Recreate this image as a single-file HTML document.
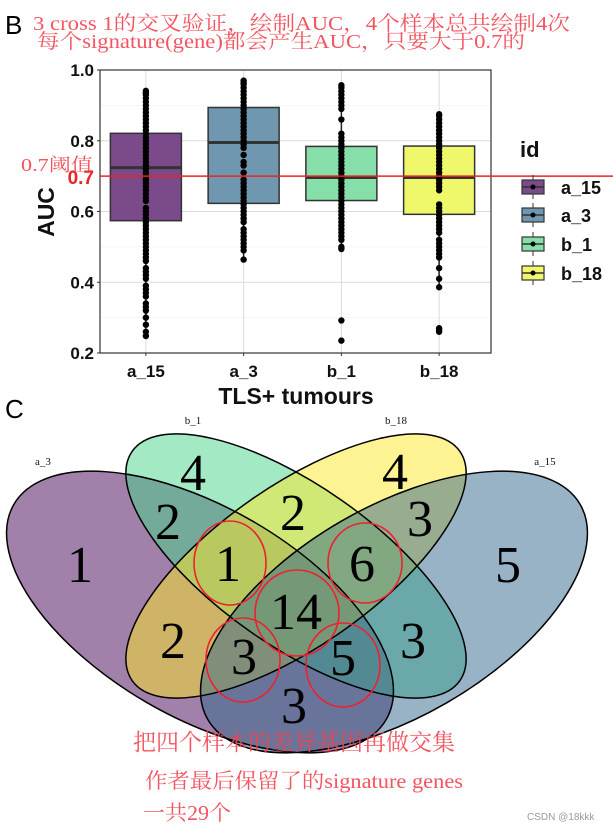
<!DOCTYPE html>
<html><head><meta charset="utf-8"><style>
html,body{margin:0;padding:0;background:#fff;}
svg{display:block;}
.sans{font-family:"Liberation Sans",sans-serif;}
.serif{font-family:"Liberation Serif","Noto Serif CJK SC",serif;}
.red{fill:#f2424f;fill-opacity:0.9;}
</style></head><body>
<svg id="chart" width="613" height="826" viewBox="0 0 613 826" xmlns="http://www.w3.org/2000/svg">
<rect width="613" height="826" fill="#fff"/>
<text x="5" y="34" class="sans" font-size="26">B</text>
<g id="plot"></g>
<g id="venn"></g>
<text x="5" y="418" class="sans" font-size="26">C</text>
<g>
<text x="33" y="30" class="serif red" font-size="20" textLength="537" lengthAdjust="spacingAndGlyphs">3 cross 1的交叉验证，绘制AUC，4个样本总共绘制4次</text>
<text x="37" y="48" class="serif red" font-size="20" textLength="488" lengthAdjust="spacingAndGlyphs">每个signature(gene)都会产生AUC，只要大于0.7的</text>
<text x="21" y="171" class="serif red" font-size="18" textLength="72" lengthAdjust="spacingAndGlyphs">0.7阈值</text>
<text x="133" y="750" class="serif red" font-size="23" textLength="322" lengthAdjust="spacingAndGlyphs">把四个样本的差异基因再做交集</text>
<text x="145" y="788" class="serif red" font-size="21" textLength="318" lengthAdjust="spacingAndGlyphs">作者最后保留了的signature genes</text>
<text x="143" y="820" class="serif red" font-size="21" textLength="88" lengthAdjust="spacingAndGlyphs">一共29个</text>
</g>
<text x="527" y="820" class="sans" font-size="10" fill="#999">CSDN @18kkk</text>
</svg>
<script>
const categories = ["a_15","a_3","b_1","b_18"];
const q1 = [0.574,0.623,0.631,0.592];
const medians = [0.724,0.795,0.696,0.696];
const q3 = [0.821,0.894,0.784,0.785];
const whiskerLow = [0.248,0.464,0.494,0.386];
const whiskerHigh = [0.941,0.970,0.957,0.875];
const yTicks = [0.2,0.4,0.6,0.8,1.0];
const yTickLabels = ["0.2","0.4","0.6","0.8","1.0"];
const yMinor = [0.3,0.5,0.7,0.9];
const threshold = 0.7;
const pointsA15 = [0.941,0.935,0.93,0.92,0.91,0.90,0.89,0.88,0.87,0.86,0.85,0.84,0.83,0.82,0.81,0.80,0.79,0.78,0.77,0.76,0.75,0.74,0.73,0.72,0.71,0.70,0.69,0.68,0.67,0.66,0.65,0.64,0.63,0.61,0.60,0.59,0.58,0.57,0.56,0.55,0.54,0.53,0.52,0.51,0.50,0.49,0.48,0.47,0.46,0.44,0.43,0.42,0.41,0.39,0.38,0.37,0.36,0.34,0.33,0.32,0.30,0.28,0.26,0.248];
const pointsA3 = [0.970,0.965,0.96,0.95,0.94,0.93,0.92,0.91,0.90,0.89,0.88,0.87,0.86,0.85,0.84,0.83,0.82,0.81,0.80,0.79,0.78,0.76,0.74,0.73,0.71,0.69,0.68,0.67,0.66,0.65,0.64,0.63,0.62,0.61,0.60,0.59,0.58,0.57,0.55,0.54,0.53,0.52,0.51,0.50,0.49,0.464];
const pointsB1 = [0.957,0.95,0.94,0.93,0.92,0.91,0.90,0.89,0.86,0.82,0.81,0.80,0.79,0.78,0.77,0.76,0.75,0.74,0.73,0.72,0.71,0.70,0.69,0.68,0.67,0.66,0.65,0.64,0.63,0.62,0.61,0.60,0.59,0.58,0.57,0.56,0.55,0.54,0.53,0.52,0.50,0.494,0.292,0.235];
const pointsB18 = [0.875,0.87,0.86,0.85,0.84,0.83,0.82,0.81,0.80,0.79,0.78,0.77,0.76,0.75,0.74,0.73,0.72,0.71,0.70,0.69,0.68,0.67,0.66,0.62,0.61,0.60,0.59,0.58,0.57,0.56,0.55,0.54,0.52,0.51,0.50,0.49,0.48,0.47,0.44,0.41,0.386,0.270,0.265,0.260];
const boxColors = ["#7a4a8a","#7097b0","#86dea8","#eff76a"];
const vennLabels = ["a_3","b_1","b_18","a_15"];
const vennCounts = [1,4,4,5,2,2,3,1,6,14,2,3,5,3,3];

const NS="http://www.w3.org/2000/svg";
function mk(tag, attrs, parent, txt){const e=document.createElementNS(NS,tag);for(const k in attrs)e.setAttribute(k,attrs[k]);if(txt!==undefined)e.textContent=txt;parent.appendChild(e);return e;}
const L=100,R=491,T=70,B=353;
const yMin=0.2,yMax=1.0;
function y(v){return B-(v-yMin)/(yMax-yMin)*(B-T);}
const band=(R-L)/categories.length;
function x(i){return L+band*(i+0.5)-3;}
const plot=document.getElementById('plot');
const bg=mk('rect',{x:L,y:T,width:R-L,height:B-T,fill:'#fff'},plot);


yMinor.forEach(v=>{const g=mk('line',{x1:L,x2:R,y1:y(v),y2:y(v),stroke:'#ececec','stroke-width':0.6},plot);

});
yTicks.forEach((v,i)=>{const g=mk('line',{x1:L,x2:R,y1:y(v),y2:y(v),stroke:'#dcdcdc','stroke-width':1},plot);


const t=mk('text',{x:L-6,y:y(v)+6,'text-anchor':'end','font-size':17,'font-weight':'bold',class:'sans',fill:'#111'},plot,yTickLabels[i]);


const tk=mk('line',{x1:L-3,x2:L,y1:y(v),y2:y(v),stroke:'#333'},plot);

});
categories.forEach((c,i)=>{const g=mk('line',{x1:x(i),x2:x(i),y1:T,y2:B,stroke:'#dcdcdc'},plot);

});
const allPts=[pointsA15,pointsA3,pointsB1,pointsB18];
categories.forEach((c,i)=>{
 const cx=x(i),hw=35.5;
 const wl=mk('line',{x1:cx,x2:cx,y1:y(whiskerLow[i]),y2:y(whiskerHigh[i]),stroke:'#222','stroke-width':1.5},plot);
 
 
 const bx=mk('rect',{x:cx-hw,y:y(q3[i]),width:2*hw,height:y(q1[i])-y(q3[i]),fill:boxColors[i],stroke:'#333','stroke-width':1.5},plot);
 
 
 const md=mk('line',{x1:cx-hw,x2:cx+hw,y1:y(medians[i]),y2:y(medians[i]),stroke:'#333','stroke-width':3},plot);
 
 
 allPts[i].forEach(v=>{const p=mk('circle',{cx:cx,cy:y(v),r:3.2,fill:'#000'},plot);
 
 });
 const t=mk('text',{x:cx,y:377,'text-anchor':'middle','font-size':17,'font-weight':'bold',class:'sans',fill:'#111'},plot,c);
 
 
 const tk=mk('line',{x1:cx,x2:cx,y1:B,y2:B+3,stroke:'#333'},plot);
 
 
});
const fr=mk('rect',{x:L,y:T,width:R-L,height:B-T,fill:'none',stroke:'#333','stroke-width':1.2},plot);


const th=mk('line',{x1:L,x2:613,y1:y(threshold),y2:y(threshold),stroke:'#ee2222','stroke-width':1.6},plot);


const thl=mk('text',{x:L-6,y:y(threshold)+8,'text-anchor':'end','font-size':19,'font-weight':'bold',class:'sans',fill:'#ee2222'},plot,String(threshold));


const yl=mk('text',{x:0,y:0,transform:'translate(54,212) rotate(-90)','text-anchor':'middle','font-size':23,'font-weight':'bold',class:'sans',fill:'#111'},plot,'AUC');


const xl=mk('text',{x:296,y:404,'text-anchor':'middle','font-size':23,'font-weight':'bold',class:'sans',fill:'#111'},plot,'TLS+ tumours');


const lt=mk('text',{x:520,y:157,'font-size':22,'font-weight':'bold',class:'sans',fill:'#111'},plot,'id');


const legY=[187,215,244,273];
categories.forEach((c,i)=>{
 const g=mk('g',{},plot);
 
 
 mk('line',{x1:533,x2:533,y1:legY[i]-12,y2:legY[i]+12,stroke:'#333'},g);
 mk('rect',{x:522,y:legY[i]-7,width:22,height:14,fill:boxColors[i],stroke:'#333','stroke-width':1.2},g);
 mk('line',{x1:522,x2:544,y1:legY[i],y2:legY[i],stroke:'#333','stroke-width':1.5},g);
 mk('circle',{cx:533,cy:legY[i],r:2.5,fill:'#000'},g);
 mk('text',{x:561,y:legY[i]+7,'font-size':18,'font-weight':'bold',class:'sans',fill:'#111'},g,c);
});

// Venn
const venn=document.getElementById('venn');
const ells=[
 {cx:200,cy:612,rx:215,ry:105,a:30,fill:'#440154'},
 {cx:296,cy:566,rx:200,ry:80,a:35,fill:'#47d389'},
 {cx:296,cy:566,rx:200,ry:80,a:-35,fill:'#fde725'},
 {cx:394,cy:612,rx:215,ry:105,a:-30,fill:'#31688e'}
];
ells.forEach((e,i)=>{const el=mk('ellipse',{cx:e.cx,cy:e.cy,rx:e.rx,ry:e.ry,transform:`rotate(${e.a} ${e.cx} ${e.cy})`,fill:e.fill,'fill-opacity':0.5},venn);

});
ells.forEach(e=>{const el=mk('ellipse',{cx:e.cx,cy:e.cy,rx:e.rx,ry:e.ry,transform:`rotate(${e.a} ${e.cx} ${e.cy})`,fill:'none',stroke:'#000','stroke-width':1.5},venn);

});
const labPos=[[43,465],[193,424],[396,424],[545,465]];
vennLabels.forEach((l,i)=>{const t=mk('text',{x:labPos[i][0],y:labPos[i][1],'text-anchor':'middle','font-size':11,class:'serif',fill:'#111'},venn,l);

});
const cntPos=[[80,565],[193,473],[395,472],[508,565],[168,522],[293,513],[420,519],[228,564],[362,564],[296,612],[173,641],[244,657],[343,658],[413,641],[294,706]];
vennCounts.forEach((n,i)=>{const t=mk('text',{x:cntPos[i][0],y:cntPos[i][1]+17,'text-anchor':'middle','font-size':52,class:'serif',fill:'#000'},venn,String(n));

});
// freehand red circles
const circ=[[230,563,36,42],[365,563,37,40],[297,613,42,43],[243,660,37,42],[343,665,37,42]];
circ.forEach(c=>{const e=mk('ellipse',{cx:c[0],cy:c[1],rx:c[2],ry:c[3],fill:'none',stroke:'#ee2030','stroke-width':1.6},venn);

});
</script>
</body></html>
